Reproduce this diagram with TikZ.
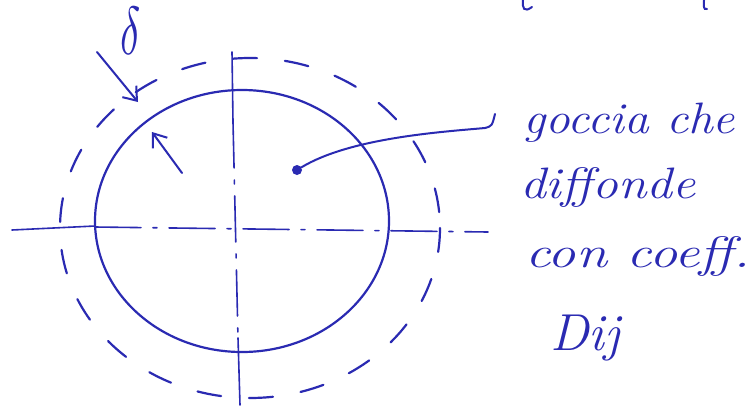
\documentclass[tikz,border=0pt]{standalone}
\usetikzlibrary{arrows.meta}
\definecolor{ink}{RGB}{42,42,178}
\begin{document}
\begin{tikzpicture}[x=1pt,y=-1pt,
  pen/.style={draw=ink,line width=2.2pt,line cap=round},
  dashring/.style={pen,dash pattern=on 24pt off 28pt},
  axisdd/.style={pen,line width=1.6pt,dash pattern=on 46pt off 12pt on 4pt off 12pt},
  axissolid/.style={pen,line width=1.6pt},
  hand/.style={text=ink,font=\fontsize{44}{52}\selectfont\itshape,anchor=base west,inner sep=0pt},
  barb/.style={pen,line width=2pt,-{Straight Barb[length=12pt,width=18pt,line width=2pt]}}]
\useasboundingbox[fill=white] (0,0) rectangle (755,416);
% axes
\draw[axissolid] (232,52) -- (233,122);
\draw[axisdd] (233,122) -- (238,338);
\draw[axissolid] (238,338) -- (240,405);
\draw[axissolid] (12,230) -- (95,226);
\draw[axisdd] (95,227) -- (488,232);
% drop and diffusion layer
\draw[pen] (242,221) ellipse [x radius=147,y radius=131];
\draw[dashring] (250,228) ellipse [x radius=190,y radius=170];
% delta
\node[text=ink,xscale=4.2,yscale=6.8,inner sep=0pt] (delta) at (131,31) {$\delta$};
\coordinate (a1s) at (97,52);
\coordinate (a1e) at (138,102);
\coordinate (a2s) at (182,173);
\coordinate (a2e) at (152,132);
\draw[barb] (a1s) -- (a1e);
\draw[barb] (a2s) -- (a2e);
% dot and leader
\node[circle,fill=ink,inner sep=0pt,minimum size=10pt] (dot) at (297,170) {};
\coordinate (hook) at (495,114);
\draw[pen,line width=2pt] (dot) .. controls (350,138) and (440,132) .. (485,128) .. controls (492,126) .. (hook);
% text
\node[hand,xscale=1.12] (t1) at (523,133) {goccia che};
\node[hand,xscale=1.17] (t2) at (520,198) {diffonde};
\node[hand,xscale=1.28] (t3) at (525,267) {con coeff.};
\node[hand,font=\fontsize{52}{60}\selectfont\itshape] (t4) at (550,350) {Dij};
% fragments of text cut at the top
\draw[pen,line width=2pt] (523,0) .. controls (522,8) and (524,13) .. (532,7);
\draw[pen,line width=2pt] (704,0) .. controls (704,6) and (703,10) .. (707,9);
\end{tikzpicture}
\end{document}
